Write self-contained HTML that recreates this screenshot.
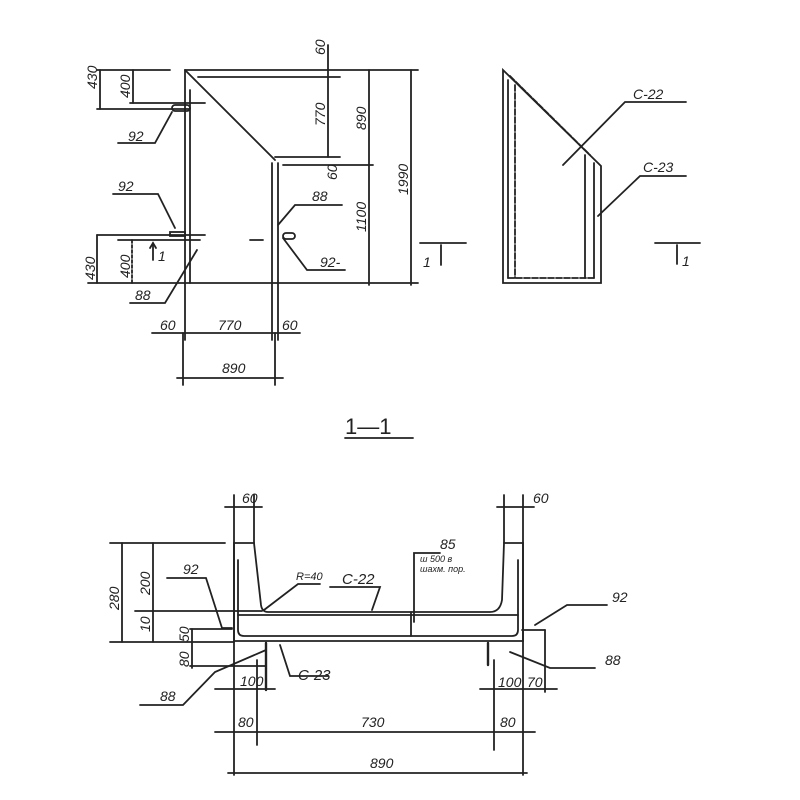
<!DOCTYPE html>
<html><head><meta charset="utf-8"><style>
html,body{margin:0;padding:0;background:#fff;}
svg{display:block}
text{font-family:"Liberation Sans",sans-serif;font-style:italic;font-size:14px;fill:#222}
</style></head><body>
<svg width="800" height="800" viewBox="0 0 800 800" xmlns="http://www.w3.org/2000/svg">
<g stroke="#222" stroke-width="1.8" fill="none" stroke-linecap="round">
<!-- LEFT VIEW -->
<line x1="185" y1="70" x2="418" y2="70"/>
<line x1="88" y1="283" x2="418" y2="283"/>
<line x1="185" y1="70" x2="185" y2="340"/>
<line x1="190" y1="90" x2="190" y2="283"/>
<line x1="185" y1="70" x2="275" y2="160"/>
<line x1="272" y1="163" x2="272" y2="340"/>
<line x1="278" y1="163" x2="278" y2="340"/>
<line x1="198" y1="77" x2="340" y2="77"/>
<line x1="275" y1="157" x2="340" y2="157"/>
<line x1="283" y1="165" x2="373" y2="165"/>
<line x1="328" y1="45" x2="328" y2="157"/>
<line x1="369" y1="70" x2="369" y2="285"/>
<line x1="411" y1="70" x2="411" y2="285"/>
<line x1="97" y1="70" x2="170" y2="70"/>
<line x1="130" y1="103" x2="205" y2="103"/>
<line x1="97" y1="109" x2="190" y2="109"/>
<line x1="100" y1="70" x2="100" y2="109"/>
<line x1="133" y1="70" x2="133" y2="103"/>
<line x1="97" y1="235" x2="205" y2="235"/>
<line x1="118" y1="240" x2="200" y2="240"/>
<line x1="97" y1="235" x2="97" y2="283"/>
<line x1="132" y1="240" x2="132" y2="283" stroke-dasharray="3 2"/>
<line x1="250" y1="240" x2="263" y2="240"/>
<line x1="152" y1="333" x2="300" y2="333"/>
<line x1="183" y1="333" x2="183" y2="385"/>
<line x1="275" y1="333" x2="275" y2="385"/>
<line x1="177" y1="378" x2="283" y2="378"/>
<rect x="172" y="105" width="18" height="6" rx="3"/>
<rect x="283" y="233" width="12" height="6" rx="3"/>
<rect x="170" y="232" width="15" height="4"/>
<polyline points="118,143 155,143 172,112"/>
<polyline points="113,194 158,194 175,228"/>
<polyline points="130,303 165,303 197,250"/>
<polyline points="342,205 295,205 278,225"/>
<polyline points="345,270 307,270 283,238"/>
<line x1="153" y1="243" x2="153" y2="260"/>
<polyline points="150,248 153,243 156,248"/>
<line x1="420" y1="243" x2="466" y2="243"/>
<line x1="441" y1="245" x2="441" y2="265"/>
<line x1="655" y1="243" x2="700" y2="243"/>
<line x1="677" y1="245" x2="677" y2="264"/>
<!-- RIGHT VIEW -->
<polygon points="503,70 601,166 601,283 503,283"/>
<line x1="508" y1="80" x2="508" y2="278"/>
<line x1="515" y1="85" x2="515" y2="278" stroke-dasharray="6 2"/>
<line x1="508" y1="278" x2="596" y2="278" stroke-dasharray="6 2"/>
<line x1="510" y1="76" x2="590" y2="155" stroke-dasharray="6 2"/>
<line x1="585" y1="155" x2="585" y2="278"/>
<line x1="594" y1="163" x2="594" y2="278"/>
<polyline points="686,102 625,102 563,165"/>
<polyline points="686,176 640,176 598,216"/>
<line x1="345" y1="438" x2="413" y2="438"/>
<!-- SECTION -->
<path d="M234,543 L234,641 L523,641 L523,543 L504,543 L502,600 Q500,612 490,612 L268,612 Q262,612 261,605 L254,543 Z"/>
<path d="M238,560 L238,630 Q238,636 244,636 L512,636 Q518,636 518,630 L518,560"/>
<line x1="238" y1="615" x2="518" y2="615"/>
<line x1="411" y1="612" x2="411" y2="636"/>
<line x1="225" y1="507" x2="262" y2="507"/>
<line x1="497" y1="507" x2="534" y2="507"/>
<line x1="234" y1="495" x2="234" y2="775"/>
<line x1="254" y1="495" x2="254" y2="543"/>
<line x1="504" y1="495" x2="504" y2="543"/>
<line x1="523" y1="495" x2="523" y2="775"/>
<line x1="110" y1="543" x2="225" y2="543"/>
<line x1="135" y1="611" x2="262" y2="611"/>
<line x1="110" y1="642" x2="234" y2="642"/>
<line x1="122" y1="543" x2="122" y2="642"/>
<line x1="153" y1="543" x2="153" y2="642"/>
<line x1="190" y1="629" x2="232" y2="629"/>
<line x1="190" y1="666" x2="266" y2="666"/>
<line x1="192" y1="629" x2="192" y2="668"/>
<line x1="266" y1="643" x2="266" y2="690" stroke-width="2.4"/>
<line x1="488" y1="643" x2="488" y2="665" stroke-width="2.4"/>
<line x1="215" y1="689" x2="275" y2="689"/>
<line x1="480" y1="689" x2="557" y2="689"/>
<line x1="215" y1="732" x2="535" y2="732"/>
<line x1="228" y1="773" x2="527" y2="773"/>
<line x1="257" y1="660" x2="257" y2="745"/>
<line x1="494" y1="660" x2="494" y2="750"/>
<line x1="545" y1="630" x2="545" y2="692"/>
<line x1="522" y1="630" x2="545" y2="630"/>
<polyline points="167,578 206,578 222,628 232,628"/>
<polyline points="320,584 298,584 264,610"/>
<polyline points="330,587 380,587 372,610"/>
<polyline points="440,553 414,553 414,622"/>
<polyline points="607,605 567,605 535,625"/>
<polyline points="595,668 550,668 510,652"/>
<polyline points="140,705 183,705 215,672 266,650"/>
<polyline points="280,645 290,676 328,676"/>
</g>
<g>
<text x="160" y="330">60</text>
<text x="218" y="330">770</text>
<text x="282" y="330">60</text>
<text x="222" y="373">890</text>
<text transform="translate(97,89) rotate(-90)">430</text>
<text transform="translate(130,98) rotate(-90)">400</text>
<text transform="translate(325,55) rotate(-90)">60</text>
<text transform="translate(325,126) rotate(-90)">770</text>
<text transform="translate(366,130) rotate(-90)">890</text>
<text transform="translate(337,180) rotate(-90)">60</text>
<text transform="translate(366,232) rotate(-90)">1100</text>
<text transform="translate(408,195) rotate(-90)">1990</text>
<text transform="translate(95,280) rotate(-90)">430</text>
<text transform="translate(130,278) rotate(-90)">400</text>
<text x="128" y="141">92</text>
<text x="118" y="191">92</text>
<text x="135" y="300">88</text>
<text x="312" y="201">88</text>
<text x="320" y="267">92-</text>
<text x="158" y="261">1</text>
<text x="423" y="267">1</text>
<text x="682" y="266">1</text>
<text x="633" y="99">C-22</text>
<text x="643" y="172">C-23</text>
<text x="345" y="434" style="font-size:22px;font-style:normal">1—1</text>
<text x="242" y="503">60</text>
<text x="533" y="503">60</text>
<text transform="translate(119,610) rotate(-90)">280</text>
<text transform="translate(150,595) rotate(-90)">200</text>
<text transform="translate(150,632) rotate(-90)">10</text>
<text transform="translate(189,642) rotate(-90)">50</text>
<text transform="translate(189,667) rotate(-90)">80</text>
<text x="183" y="574">92</text>
<text x="296" y="580" style="font-size:11px">R=40</text>
<text x="342" y="584" style="font-size:15px">C-22</text>
<text x="440" y="549">85</text>
<text x="420" y="562" style="font-size:9px">ш 500 в</text>
<text x="420" y="572" style="font-size:9px">шахм. пор.</text>
<text x="612" y="602">92</text>
<text x="605" y="665">88</text>
<text x="160" y="701">88</text>
<text x="298" y="680" style="font-size:15px">C-23</text>
<text x="240" y="686">100</text>
<text x="498" y="687">100</text>
<text x="527" y="687">70</text>
<text x="238" y="727">80</text>
<text x="361" y="727">730</text>
<text x="500" y="727">80</text>
<text x="370" y="768">890</text>
</g>
</svg>
</body></html>
